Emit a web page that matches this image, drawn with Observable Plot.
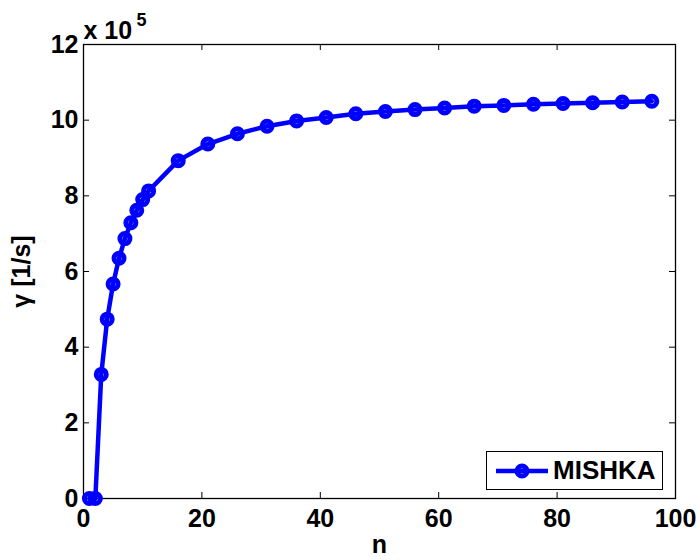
<!DOCTYPE html>
<html>
<head>
<meta charset="utf-8">
<script src="https://cdn.jsdelivr.net/npm/d3@7"></script>
<script src="https://cdn.jsdelivr.net/npm/@observablehq/plot@0.6"></script>
<style>
  html, body { margin: 0; padding: 0; background: #fff; }
  #wrap { position: relative; width: 700px; height: 560px; overflow: hidden; }
  #legend {
    position: absolute; left: 486px; top: 451px; width: 177px; height: 39px;
    border: 1.5px solid #000; background: #fff; box-sizing: border-box;
    font-family: "Liberation Sans", Arial, sans-serif; font-weight: bold; font-size: 26px;
    display: flex; align-items: center;
  }
  #legend svg { margin-left: 9px; }
  #legend span { margin-left: 5px; }
</style>
</head>
<body>
<div id="wrap"></div>
<script>
// Toroidal mode number n and MISHKA growth rate (in units of 1e5 1/s)
const modeN = [1, 2, 3, 4, 5, 6, 7, 8, 9, 10, 11, 16, 21, 26, 31, 36, 41, 46, 51, 56, 61, 66, 71, 76, 81, 86, 91, 96];
const gammaE5 = [0, 0, 3.28, 4.74, 5.67, 6.35, 6.87, 7.29, 7.62, 7.90, 8.13, 8.93, 9.37, 9.64, 9.84, 9.98, 10.07, 10.17, 10.23, 10.28, 10.32, 10.37, 10.39, 10.42, 10.44, 10.46, 10.48, 10.50];
const xTicks = [0, 20, 40, 60, 80, 100];
const yTicks = [0, 2, 4, 6, 8, 10, 12];
const seriesName = "MISHKA";

const data = modeN.map((n, i) => ({n, g: gammaE5[i]}));

const W = 700, H = 560;
const M = {top: 44, right: 25, bottom: 62, left: 83};
const innerH = H - M.top - M.bottom;
const innerW = W - M.left - M.right;
const tickLen = 6;
const blue = "#0000ff";
const fs = 25;

const chart = Plot.plot({
  width: W,
  height: H,
  marginTop: M.top,
  marginRight: M.right,
  marginBottom: M.bottom,
  marginLeft: M.left,
  style: {fontFamily: "'Liberation Sans', Arial, sans-serif", fontWeight: "bold", fontSize: `${fs}px`, background: "#fff", color: "#000"},
  x: {domain: [0, 100]},
  y: {domain: [0, 12]},
  marks: [
    Plot.frame({stroke: "#000", strokeWidth: 1.3}),
    // inward tick marks on all four sides
    Plot.ruleX(xTicks, {x: d => d, insetTop: innerH - tickLen, stroke: "#000"}),
    Plot.ruleX(xTicks, {x: d => d, insetBottom: innerH - tickLen, stroke: "#000"}),
    Plot.ruleY(yTicks, {y: d => d, insetRight: innerW - tickLen, stroke: "#000"}),
    Plot.ruleY(yTicks, {y: d => d, insetLeft: innerW - tickLen, stroke: "#000"}),
    Plot.axisX(xTicks, {tickSize: 0, tickPadding: 11, label: "n", labelAnchor: "center", labelArrow: "none", labelOffset: 54, fontSize: fs}),
    Plot.axisY(yTicks, {tickSize: 0, tickPadding: 5, label: "γ [1/s]", labelAnchor: "center", labelArrow: "none", labelOffset: 71, fontSize: fs}),
    Plot.line(data, {x: "n", y: "g", stroke: blue, strokeWidth: 4.5}),
    Plot.dot(data, {x: "n", y: "g", r: 5, stroke: blue, strokeWidth: 5, fill: "none"}),
    // exponent annotation above the y axis
    Plot.text(["x 10"], {frameAnchor: "top-left", text: d => d, textAnchor: "start", lineAnchor: "bottom", dx: 0, dy: -6, fontSize: fs}),
    Plot.text(["5"], {frameAnchor: "top-left", text: d => d, textAnchor: "start", lineAnchor: "bottom", dx: 53, dy: -19, fontSize: 18})
  ]
});

const wrap = document.getElementById("wrap");
wrap.appendChild(chart);

const legend = document.createElement("div");
legend.id = "legend";
legend.innerHTML = `<svg width="52" height="16" viewBox="0 0 52 16">
  <line x1="0" y1="8" x2="52" y2="8" stroke="${blue}" stroke-width="4.5"/>
  <circle cx="26" cy="8" r="5" fill="none" stroke="${blue}" stroke-width="5"/>
</svg><span>${seriesName}</span>`;
wrap.appendChild(legend);
</script>
</body>
</html>
